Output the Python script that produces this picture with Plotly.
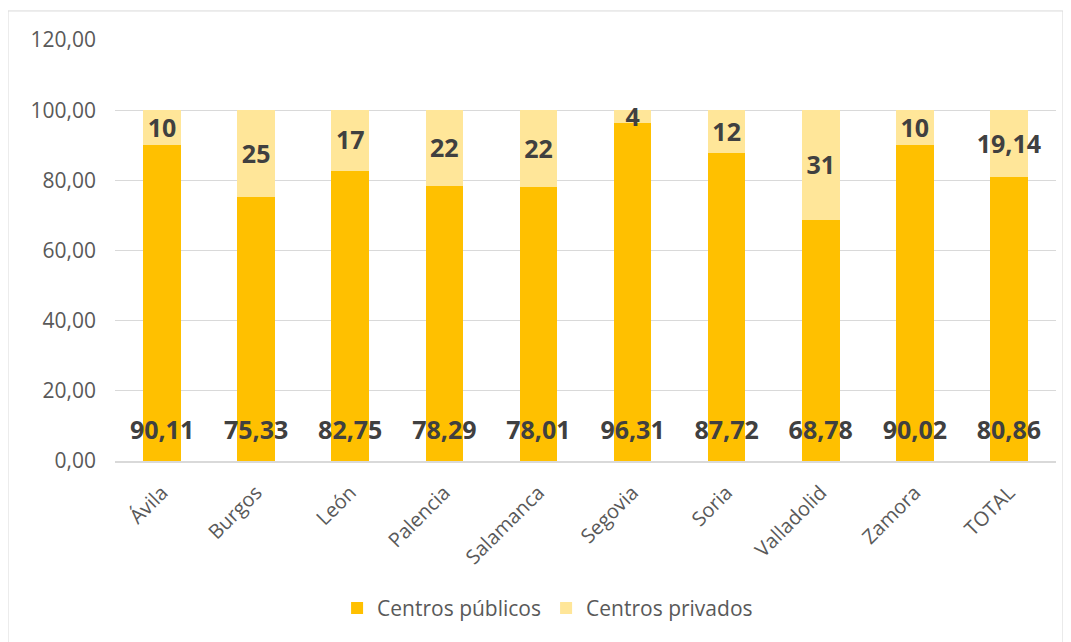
import plotly.graph_objects as go

categorias = ["Ávila", "Burgos", "León", "Palencia", "Salamanca", "Segovia", "Soria", "Valladolid", "Zamora", "TOTAL"]
publicos = [90.11, 75.33, 82.75, 78.29, 78.01, 96.31, 87.72, 68.78, 90.02, 80.86]
privados = [9.89, 24.67, 17.25, 21.71, 21.99, 3.69, 12.28, 31.22, 9.98, 19.14]
etiquetas_publicos = ["90,11", "75,33", "82,75", "78,29", "78,01", "96,31", "87,72", "68,78", "90,02", "80,86"]
etiquetas_privados = ["10", "25", "17", "22", "22", "4", "12", "31", "10", "19,14"]
ticks_y = [0, 20, 40, 60, 80, 100, 120]
ticks_y_text = ["0,00", "20,00", "40,00", "60,00", "80,00", "100,00", "120,00"]

C_PUB = "#FFC000"
C_PRIV = "#FFE699"
FONT = "Open Sans"
LBL = dict(family=FONT, size=25, color="#404040", weight="bold")
BASE_LABEL_Y = 8  # label height inside the base of each bar (axis units)

fig = go.Figure()
fig.add_trace(go.Bar(x=categorias, y=publicos, name="Centros públicos", marker=dict(color=C_PUB, line_width=0)))
fig.add_trace(go.Bar(x=categorias, y=privados, name="Centros privados", marker=dict(color=C_PRIV, line_width=0)))

fig.add_trace(go.Scatter(x=categorias, y=[BASE_LABEL_Y] * len(categorias), mode="text", text=etiquetas_publicos,
                         textposition="middle center", textfont=LBL, showlegend=False, hoverinfo="skip",
                         cliponaxis=False))
fig.add_trace(go.Scatter(x=categorias, y=[p + q / 2 - 0.8 for p, q in zip(publicos, privados)], mode="text",
                         text=etiquetas_privados, textposition="middle center", textfont=LBL,
                         showlegend=False, hoverinfo="skip", cliponaxis=False))

fig.update_layout(
    barmode="stack",
    bargap=0.6,
    width=1071, height=642,
    margin=dict(l=107, r=23, t=32, b=189),
    paper_bgcolor="white", plot_bgcolor="white",
    font=dict(family=FONT, color="#595959"),
    legend=dict(orientation="h", x=0.236, xanchor="left", y=-0.35, yanchor="middle",
                font=dict(family=FONT, size=21, color="#595959"), itemwidth=30, traceorder="normal",
                entrywidth=164, entrywidthmode="pixels"),
    xaxis=dict(tickangle=-45, tickfont=dict(family=FONT, size=20, color="#595959"), showgrid=False,
               showline=True, linecolor="#d9d9d9", linewidth=2, ticks="", ticklabelstandoff=10),
    yaxis=dict(range=[0, 120], tickvals=ticks_y, ticktext=ticks_y_text, showgrid=True, gridcolor="#d9d9d9",
               gridwidth=1, zeroline=False, tickfont=dict(family=FONT, size=21, color="#595959"),
               ticks="", ticklabelstandoff=18),
    shapes=[dict(type="rect", xref="paper", yref="paper", x0=-0.1137, x1=1.0074, y0=-0.5, y1=1.069,
                 line=dict(color="#d9d9d9", width=1), fillcolor="rgba(0,0,0,0)", layer="below")],
)

fig.write_html("out.html")
